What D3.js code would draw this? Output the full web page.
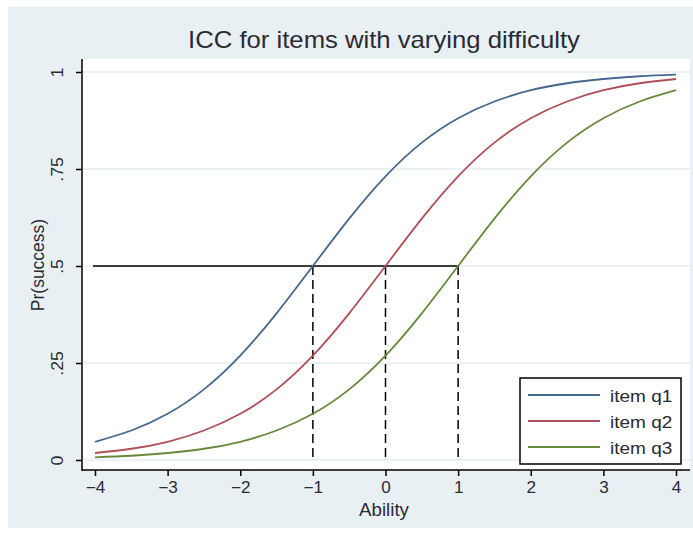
<!DOCTYPE html>
<html><head><meta charset="utf-8">
<script src="https://cdn.jsdelivr.net/npm/d3@7"></script>
<style>body{margin:0;background:#fff}svg{display:block;font-family:"Liberation Sans",Arial,sans-serif}</style>
</head><body>
<svg id="c" width="693" height="535"></svg>
<script>
const ability = [-4,-3.5,-3,-2.5,-2,-1.5,-1,-0.5,0,0.5,1,1.5,2,2.5,3,3.5,4];
const itemQ1 = [0.047,0.076,0.119,0.182,0.269,0.378,0.5,0.622,0.731,0.818,0.881,0.924,0.953,0.971,0.982,0.989,0.993];
const itemQ2 = [0.018,0.029,0.047,0.076,0.119,0.182,0.269,0.378,0.5,0.622,0.731,0.818,0.881,0.924,0.953,0.971,0.982];
const itemQ3 = [0.007,0.011,0.018,0.029,0.047,0.076,0.119,0.182,0.269,0.378,0.5,0.622,0.731,0.818,0.881,0.924,0.953];
const seriesNames = ["item q1","item q2","item q3"];
const difficulties = [-1,0,1];
const xTicks = [-4,-3,-2,-1,0,1,2,3,4];
const yTicks = [0,0.25,0.5,0.75,1];
const yTickLabels = ["0",".25",".5",".75","1"];
const colors = ["#46698f","#b04f57","#658a3a"];
const textColor = "#2b2b33";

const svg = d3.select("#c");
svg.append("rect").attr("x",8).attr("y",7).attr("width",685).attr("height",521).attr("fill","#e9f0f3");
const L=82,R=690,T=59,B=470;
svg.append("rect").attr("x",L).attr("y",T).attr("width",R-L).attr("height",B-T).attr("fill","#fff");

const x = d3.scaleLinear().domain([-4,4]).range([95,676]);
const y = d3.scaleLinear().domain([0,1]).range([460,72]);

// grid
svg.append("g").selectAll("line").data(yTicks).join("line")
  .attr("x1",L).attr("x2",R).attr("y1",d=>y(d)).attr("y2",d=>y(d))
  .attr("stroke","#e4ecf0").attr("stroke-width",1.5);

// axes
const yAxis = d3.axisLeft(y).tickValues(yTicks).tickFormat((d,i)=>yTickLabels[i]).tickSize(6).tickPadding(4);
const gy = svg.append("g").attr("transform",`translate(${L},0)`).call(yAxis);
gy.select(".domain").attr("d",`M0,${T}V${B+1}`).attr("stroke","#000").attr("stroke-width",1.5);
gy.selectAll(".tick line").attr("stroke","#000").attr("stroke-width",1.5);
gy.selectAll(".tick text").attr("transform","rotate(-90) scale(1.07,1)")
  .attr("x",0).attr("y",-19).attr("dy","0").attr("text-anchor","middle")
  .attr("font-size",16.5).attr("fill",textColor);

const xAxis = d3.axisBottom(x).tickValues(xTicks).tickFormat(d=>d<0?"\u2212"+Math.abs(d):String(d)).tickSize(6).tickPadding(6);
const gx = svg.append("g").attr("transform",`translate(0,${B})`).call(xAxis);
gx.select(".domain").attr("d",`M${L},0H${R}`).attr("stroke","#000").attr("stroke-width",1.5);
gx.selectAll(".tick line").attr("stroke","#000").attr("stroke-width",1.5);
gx.selectAll(".tick text").attr("font-size",16).attr("fill",textColor)
  .attr("transform","scale(1.07,1)");

// reference lines
svg.append("line").attr("x1",x(-4)-2).attr("x2",x(difficulties[2])).attr("y1",y(0.5)).attr("y2",y(0.5))
  .attr("stroke","#000").attr("stroke-width",1.5);
svg.append("g").selectAll("line").data(difficulties).join("line")
  .attr("x1",d=>x(d)).attr("x2",d=>x(d)).attr("y1",y(0.5)).attr("y2",y(0))
  .attr("stroke","#000").attr("stroke-width",1.5).attr("stroke-dasharray","9,5");

// curves
const allSeries=[itemQ1,itemQ2,itemQ3];
const line = d3.line().x((d,i)=>x(ability[i])).y(d=>y(d)).curve(d3.curveNatural);
allSeries.forEach((s,k)=>{
  svg.append("path").attr("d",line(s)).attr("fill","none").attr("stroke",colors[k]).attr("stroke-width",1.8);
});

// legend
svg.append("rect").attr("x",520).attr("y",378).attr("width",161).attr("height",86)
  .attr("fill","#fff").attr("stroke","#000").attr("stroke-width",1.5);
seriesNames.forEach((n,k)=>{
  const yy=395+k*26;
  svg.append("line").attr("x1",528).attr("x2",600).attr("y1",yy).attr("y2",yy).attr("stroke",colors[k]).attr("stroke-width",1.8);
  svg.append("text").attr("transform",`translate(610,${yy+6.5}) scale(1.12,1)`).attr("font-size",17).attr("fill",textColor).text(n);
});

// titles
svg.append("text").attr("transform","translate(384,48) scale(1.07,1)").attr("text-anchor","middle").attr("font-size",24).attr("fill",textColor)
  .text("ICC for items with varying difficulty");
svg.append("text").attr("transform","translate(384,516) scale(1.07,1)").attr("text-anchor","middle").attr("font-size",17.5).attr("fill",textColor).text("Ability");
svg.append("text").attr("transform",`translate(44,265) rotate(-90)`).attr("text-anchor","middle").attr("font-size",17.5).attr("fill",textColor).text("Pr(success)");
</script>
</body></html>
